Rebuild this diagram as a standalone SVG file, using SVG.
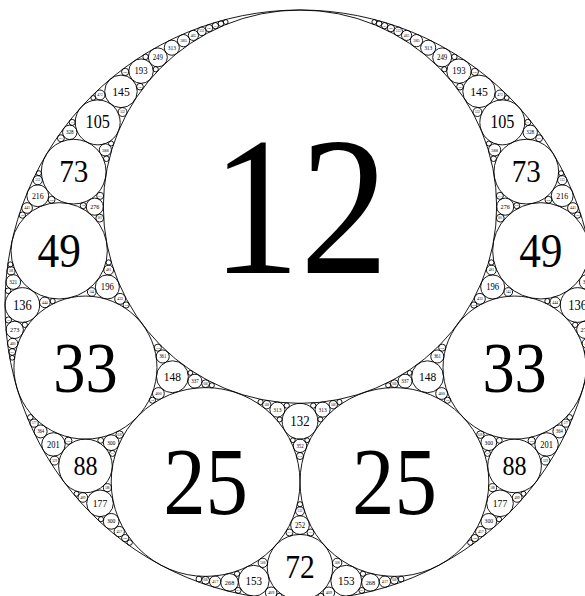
<svg xmlns="http://www.w3.org/2000/svg" width="585" height="596" viewBox="0 0 585 596">
<style>
circle{fill:none;stroke:#000;stroke-width:0.9}
text{font-family:"Liberation Serif","Times New Roman",serif;text-anchor:middle;fill:#000}
</style>
<rect width="585" height="596" fill="#fff"/>
<g id="gasket">
<circle cx="300" cy="305" r="295"/>
<circle cx="300" cy="206.667" r="196.667"/>
<circle cx="300" cy="567.222" r="32.778"/>
<circle cx="300" cy="421.212" r="17.879"/>
<circle cx="300" cy="525.079" r="9.365"/>
<circle cx="300" cy="445.795" r="6.705"/>
<circle cx="300" cy="511.278" r="4.436"/>
<circle cx="300" cy="456.012" r="3.512"/>
<circle cx="300" cy="504.254" r="2.588"/>
<g id="right">
<circle cx="394.4" cy="482" r="94.4"/>
<circle cx="514.55" cy="367.58" r="71.52"/>
<circle cx="540.82" cy="250.82" r="48.16"/>
<circle cx="526.3" cy="171.64" r="32.33"/>
<circle cx="514.55" cy="465.91" r="26.82"/>
<circle cx="502.29" cy="122.38" r="22.48"/>
<circle cx="577.65" cy="305" r="17.35"/>
<circle cx="479.03" cy="91.38" r="16.28"/>
<circle cx="427.57" cy="376.76" r="15.95"/>
<circle cx="346.27" cy="580.72" r="15.43"/>
<circle cx="500" cy="503.33" r="13.33"/>
<circle cx="458.96" cy="71.14" r="12.23"/>
<circle cx="492.65" cy="286.94" r="12.04"/>
<circle cx="546.57" cy="444.43" r="11.74"/>
<circle cx="562.22" cy="195.74" r="10.93"/>
<circle cx="442.17" cy="57.39" r="9.48"/>
<circle cx="370.45" cy="582.39" r="8.81"/>
<circle cx="585.27" cy="329.85" r="8.65"/>
<circle cx="505.22" cy="206.67" r="8.55"/>
<circle cx="488.8" cy="521.33" r="7.87"/>
<circle cx="488.8" cy="442.67" r="7.87"/>
<circle cx="428.18" cy="47.7" r="7.54"/>
<circle cx="322.62" cy="409.62" r="7.54"/>
<circle cx="586.73" cy="282.02" r="7.35"/>
<circle cx="530.24" cy="132.32" r="7.2"/>
<circle cx="405.04" cy="381.16" r="7"/>
<circle cx="437.29" cy="356.48" r="6.54"/>
<circle cx="559.34" cy="431.43" r="6.48"/>
<circle cx="416.47" cy="40.65" r="6.13"/>
<circle cx="494.64" cy="149.9" r="6.08"/>
<circle cx="441.6" cy="393.5" r="5.9"/>
<circle cx="328.85" cy="592.79" r="5.77"/>
<circle cx="384.89" cy="581.61" r="5.66"/>
<circle cx="479.86" cy="298.87" r="5.45"/>
<circle cx="572.93" cy="208.01" r="5.35"/>
<circle cx="555.14" cy="302.34" r="5.32"/>
<circle cx="480.74" cy="531.58" r="5.16"/>
<circle cx="587.3" cy="343.48" r="5.13"/>
<circle cx="406.58" cy="35.38" r="5.08"/>
<circle cx="500" cy="95" r="5"/>
<circle cx="491.35" cy="270.04" r="4.91"/>
<circle cx="517.18" cy="497.44" r="4.83"/>
<circle cx="337.17" cy="562.83" r="4.65"/>
<circle cx="562.22" cy="180.21" r="4.6"/>
<circle cx="545.37" cy="460.59" r="4.46"/>
<circle cx="477.44" cy="112.03" r="4.44"/>
<circle cx="508.24" cy="291.99" r="4.34"/>
<circle cx="398.16" cy="31.34" r="4.27"/>
<circle cx="333.24" cy="404.72" r="4.16"/>
<circle cx="565.86" cy="423.1" r="4.09"/>
<circle cx="588.98" cy="270.88" r="4.01"/>
<circle cx="492.65" cy="487.62" r="4.01"/>
<circle cx="394.4" cy="383.67" r="3.93"/>
<circle cx="394.4" cy="580.33" r="3.93"/>
<circle cx="500.27" cy="218.12" r="3.93"/>
<circle cx="480.38" cy="434.65" r="3.76"/>
<circle cx="474.81" cy="71.91" r="3.64"/>
<circle cx="474.81" cy="538.09" r="3.64"/>
<circle cx="390.91" cy="28.18" r="3.64"/>
<circle cx="531.66" cy="440.74" r="3.62"/>
<circle cx="442.17" cy="347.65" r="3.55"/>
<circle cx="499.88" cy="195.85" r="3.51"/>
<circle cx="310.52" cy="532.5" r="3.51"/>
<circle cx="539.12" cy="138.22" r="3.47"/>
<circle cx="548.42" cy="199.77" r="3.45"/>
<circle cx="587.8" cy="351.98" r="3.39"/>
<circle cx="460" cy="86.67" r="3.33"/>
<circle cx="577.65" cy="215.08" r="3.16"/>
<circle cx="384.62" cy="25.67" r="3.13"/>
<circle cx="473.89" cy="305" r="3.11"/>
<circle cx="447.5" cy="400.26" r="3.07"/>
<circle cx="591.55" cy="319.96" r="3.07"/>
<circle cx="527.8" cy="122.38" r="3.04"/>
<circle cx="516.73" cy="205.66" r="3.01"/>
<circle cx="487.49" cy="453.43" r="2.98"/>
<circle cx="320.83" cy="596.28" r="2.98"/>
<circle cx="361.87" cy="590.42" r="2.95"/>
<circle cx="401.1" cy="579.06" r="2.89"/>
<circle cx="499.31" cy="440.4" r="2.89"/>
<circle cx="569.71" cy="417.38" r="2.81"/>
<circle cx="493.63" cy="158.73" r="2.81"/>
<circle cx="591.87" cy="290.75" r="2.78"/>
<circle cx="454.39" cy="56.87" r="2.76"/>
<circle cx="379.12" cy="23.64" r="2.73"/>
<circle cx="470.31" cy="542.55" r="2.7"/>
<circle cx="491.35" cy="262.48" r="2.66"/>
<circle cx="313.27" cy="405.55" r="2.65"/>
<circle cx="575.16" cy="324.84" r="2.65"/>
<circle cx="339.46" cy="402.02" r="2.63"/>
<circle cx="362.93" cy="573.78" r="2.62"/>
<circle cx="499.04" cy="519.22" r="2.59"/>
<circle cx="547.34" cy="301.14" r="2.58"/>
<circle cx="444.28" cy="69.26" r="2.58"/>
<circle cx="320.34" cy="419.44" r="2.54"/>
<circle cx="589.65" cy="264.39" r="2.52"/>
<circle cx="388.15" cy="385.28" r="2.52"/>
<circle cx="488.9" cy="143.49" r="2.52"/>
<circle cx="561.11" cy="173.19" r="2.51"/>
<circle cx="523.48" cy="493.79" r="2.46"/>
<circle cx="409.6" cy="372.89" r="2.44"/>
<circle cx="587.8" cy="357.76" r="2.4"/>
<circle cx="374.27" cy="21.98" r="2.4"/>
<circle cx="506.77" cy="97.94" r="2.38"/>
<circle cx="307.13" cy="440.17" r="2.38"/>
</g>
<use href="#right" transform="matrix(-1 0 0 1 600 0)"/>
</g>
<g id="labels">
<text transform="matrix(.9 0 0 1 300 0)" y="272.55" font-size="196.67">12</text>
<text transform="matrix(.9 0 0 1 300 0)" y="578.2" font-size="32.78">72</text>
<text transform="matrix(.9 0 0 1 300 0)" y="426" font-size="14.3">132</text>
<text transform="matrix(.9 0 0 1 300 0)" y="527.59" font-size="7.49">252</text>
<text transform="matrix(.9 0 0 1 300 0)" y="447.6" font-size="5.36">352</text>
<text transform="matrix(.9 0 0 1 300 0)" y="512.47" font-size="3.55">532</text>
<text transform="matrix(.9 0 0 1 300 0)" y="456.95" font-size="2.81">672</text>
<text transform="matrix(.9 0 0 1 394.4 0)" y="513.62" font-size="94.4">25</text><text transform="matrix(.9 0 0 1 205.6 0)" y="513.62" font-size="94.4">25</text>
<text transform="matrix(.9 0 0 1 514.55 0)" y="391.54" font-size="71.52">33</text><text transform="matrix(.9 0 0 1 85.45 0)" y="391.54" font-size="71.52">33</text>
<text transform="matrix(.9 0 0 1 540.82 0)" y="266.95" font-size="48.16">49</text><text transform="matrix(.9 0 0 1 59.18 0)" y="266.95" font-size="48.16">49</text>
<text transform="matrix(.9 0 0 1 526.3 0)" y="182.47" font-size="32.33">73</text><text transform="matrix(.9 0 0 1 73.7 0)" y="182.47" font-size="32.33">73</text>
<text transform="matrix(.9 0 0 1 514.55 0)" y="474.89" font-size="26.82">88</text><text transform="matrix(.9 0 0 1 85.45 0)" y="474.89" font-size="26.82">88</text>
<text transform="matrix(.9 0 0 1 502.29 0)" y="128.4" font-size="17.98">105</text><text transform="matrix(.9 0 0 1 97.71 0)" y="128.4" font-size="17.98">105</text>
<text transform="matrix(.9 0 0 1 577.65 0)" y="309.65" font-size="13.88">136</text><text transform="matrix(.9 0 0 1 22.35 0)" y="309.65" font-size="13.88">136</text>
<text transform="matrix(.9 0 0 1 479.03 0)" y="95.74" font-size="13.02">145</text><text transform="matrix(.9 0 0 1 120.97 0)" y="95.74" font-size="13.02">145</text>
<text transform="matrix(.9 0 0 1 427.57 0)" y="381.03" font-size="12.76">148</text><text transform="matrix(.9 0 0 1 172.43 0)" y="381.03" font-size="12.76">148</text>
<text transform="matrix(.9 0 0 1 346.27 0)" y="584.85" font-size="12.34">153</text><text transform="matrix(.9 0 0 1 253.73 0)" y="584.85" font-size="12.34">153</text>
<text transform="matrix(.9 0 0 1 500 0)" y="506.9" font-size="10.67">177</text><text transform="matrix(.9 0 0 1 100 0)" y="506.9" font-size="10.67">177</text>
<text transform="matrix(.9 0 0 1 458.96 0)" y="74.42" font-size="9.78">193</text><text transform="matrix(.9 0 0 1 141.04 0)" y="74.42" font-size="9.78">193</text>
<text transform="matrix(.9 0 0 1 492.65 0)" y="290.17" font-size="9.63">196</text><text transform="matrix(.9 0 0 1 107.35 0)" y="290.17" font-size="9.63">196</text>
<text transform="matrix(.9 0 0 1 546.57 0)" y="447.58" font-size="9.39">201</text><text transform="matrix(.9 0 0 1 53.43 0)" y="447.58" font-size="9.39">201</text>
<text transform="matrix(.9 0 0 1 562.22 0)" y="198.67" font-size="8.74">216</text><text transform="matrix(.9 0 0 1 37.78 0)" y="198.67" font-size="8.74">216</text>
<text transform="matrix(.9 0 0 1 442.17 0)" y="59.93" font-size="7.58">249</text><text transform="matrix(.9 0 0 1 157.83 0)" y="59.93" font-size="7.58">249</text>
<text transform="matrix(.9 0 0 1 370.45 0)" y="584.75" font-size="7.04">268</text><text transform="matrix(.9 0 0 1 229.55 0)" y="584.75" font-size="7.04">268</text>
<text transform="matrix(.9 0 0 1 585.27 0)" y="332.17" font-size="6.92">273</text><text transform="matrix(.9 0 0 1 14.73 0)" y="332.17" font-size="6.92">273</text>
<text transform="matrix(.9 0 0 1 505.22 0)" y="208.96" font-size="6.84">276</text><text transform="matrix(.9 0 0 1 94.78 0)" y="208.96" font-size="6.84">276</text>
<text transform="matrix(.9 0 0 1 488.8 0)" y="523.44" font-size="6.29">300</text><text transform="matrix(.9 0 0 1 111.2 0)" y="523.44" font-size="6.29">300</text>
<text transform="matrix(.9 0 0 1 488.8 0)" y="444.78" font-size="6.29">300</text><text transform="matrix(.9 0 0 1 111.2 0)" y="444.78" font-size="6.29">300</text>
<text transform="matrix(.9 0 0 1 428.18 0)" y="49.72" font-size="6.03">313</text><text transform="matrix(.9 0 0 1 171.82 0)" y="49.72" font-size="6.03">313</text>
<text transform="matrix(.9 0 0 1 322.62 0)" y="411.64" font-size="6.03">313</text><text transform="matrix(.9 0 0 1 277.38 0)" y="411.64" font-size="6.03">313</text>
<text transform="matrix(.9 0 0 1 586.73 0)" y="283.99" font-size="5.88">321</text><text transform="matrix(.9 0 0 1 13.27 0)" y="283.99" font-size="5.88">321</text>
<text transform="matrix(.9 0 0 1 530.24 0)" y="134.25" font-size="5.76">328</text><text transform="matrix(.9 0 0 1 69.76 0)" y="134.25" font-size="5.76">328</text>
<text transform="matrix(.9 0 0 1 405.04 0)" y="383.04" font-size="5.6">337</text><text transform="matrix(.9 0 0 1 194.96 0)" y="383.04" font-size="5.6">337</text>
<text transform="matrix(.9 0 0 1 437.29 0)" y="358.23" font-size="5.23">361</text><text transform="matrix(.9 0 0 1 162.71 0)" y="358.23" font-size="5.23">361</text>
<text transform="matrix(.9 0 0 1 559.34 0)" y="433.17" font-size="5.19">364</text><text transform="matrix(.9 0 0 1 40.66 0)" y="433.17" font-size="5.19">364</text>
<text transform="matrix(.9 0 0 1 416.47 0)" y="42.29" font-size="4.9">385</text><text transform="matrix(.9 0 0 1 183.53 0)" y="42.29" font-size="4.9">385</text>
<text transform="matrix(.9 0 0 1 494.64 0)" y="151.53" font-size="4.87">388</text><text transform="matrix(.9 0 0 1 105.36 0)" y="151.53" font-size="4.87">388</text>
<text transform="matrix(.9 0 0 1 441.6 0)" y="395.08" font-size="4.72">400</text><text transform="matrix(.9 0 0 1 158.4 0)" y="395.08" font-size="4.72">400</text>
<text transform="matrix(.9 0 0 1 328.85 0)" y="594.34" font-size="4.62">409</text><text transform="matrix(.9 0 0 1 271.15 0)" y="594.34" font-size="4.62">409</text>
<text transform="matrix(.9 0 0 1 384.89 0)" y="583.13" font-size="4.53">417</text><text transform="matrix(.9 0 0 1 215.11 0)" y="583.13" font-size="4.53">417</text>
<text transform="matrix(.9 0 0 1 479.86 0)" y="300.33" font-size="4.36">433</text><text transform="matrix(.9 0 0 1 120.14 0)" y="300.33" font-size="4.36">433</text>
<text transform="matrix(.9 0 0 1 572.93 0)" y="209.44" font-size="4.28">441</text><text transform="matrix(.9 0 0 1 27.07 0)" y="209.44" font-size="4.28">441</text>
<text transform="matrix(.9 0 0 1 555.14 0)" y="303.76" font-size="4.25">444</text><text transform="matrix(.9 0 0 1 44.86 0)" y="303.76" font-size="4.25">444</text>
<text transform="matrix(.9 0 0 1 480.74 0)" y="532.96" font-size="4.13">457</text><text transform="matrix(.9 0 0 1 119.26 0)" y="532.96" font-size="4.13">457</text>
<text transform="matrix(.9 0 0 1 587.3 0)" y="344.85" font-size="4.1">460</text><text transform="matrix(.9 0 0 1 12.7 0)" y="344.85" font-size="4.1">460</text>
<text transform="matrix(.9 0 0 1 406.58 0)" y="36.74" font-size="4.06">465</text><text transform="matrix(.9 0 0 1 193.42 0)" y="36.74" font-size="4.06">465</text>
<text transform="matrix(.9 0 0 1 500 0)" y="96.34" font-size="4">472</text><text transform="matrix(.9 0 0 1 100 0)" y="96.34" font-size="4">472</text>
<text transform="matrix(.9 0 0 1 491.35 0)" y="271.35" font-size="3.92">481</text><text transform="matrix(.9 0 0 1 108.65 0)" y="271.35" font-size="3.92">481</text>
<text transform="matrix(.9 0 0 1 517.18 0)" y="498.73" font-size="3.86">489</text><text transform="matrix(.9 0 0 1 82.82 0)" y="498.73" font-size="3.86">489</text>
<text transform="matrix(.9 0 0 1 337.17 0)" y="564.08" font-size="3.72">508</text><text transform="matrix(.9 0 0 1 262.83 0)" y="564.08" font-size="3.72">508</text>
<text transform="matrix(.9 0 0 1 562.22 0)" y="181.44" font-size="3.68">513</text><text transform="matrix(.9 0 0 1 37.78 0)" y="181.44" font-size="3.68">513</text>
<text transform="matrix(.9 0 0 1 545.37 0)" y="461.79" font-size="3.57">529</text><text transform="matrix(.9 0 0 1 54.63 0)" y="461.79" font-size="3.57">529</text>
<text transform="matrix(.9 0 0 1 477.44 0)" y="113.22" font-size="3.55">532</text><text transform="matrix(.9 0 0 1 122.56 0)" y="113.22" font-size="3.55">532</text>
<text transform="matrix(.9 0 0 1 508.24 0)" y="293.15" font-size="3.47">544</text><text transform="matrix(.9 0 0 1 91.76 0)" y="293.15" font-size="3.47">544</text>
<text transform="matrix(.9 0 0 1 398.16 0)" y="32.48" font-size="3.41">553</text><text transform="matrix(.9 0 0 1 201.84 0)" y="32.48" font-size="3.41">553</text>
<text transform="matrix(.9 0 0 1 333.24 0)" y="405.83" font-size="3.32">568</text><text transform="matrix(.9 0 0 1 266.76 0)" y="405.83" font-size="3.32">568</text>
<text transform="matrix(.9 0 0 1 565.86 0)" y="424.2" font-size="3.27">577</text><text transform="matrix(.9 0 0 1 34.14 0)" y="424.2" font-size="3.27">577</text>
<text transform="matrix(.9 0 0 1 588.98 0)" y="271.96" font-size="3.21">588</text><text transform="matrix(.9 0 0 1 11.02 0)" y="271.96" font-size="3.21">588</text>
<text transform="matrix(.9 0 0 1 492.65 0)" y="488.7" font-size="3.21">588</text><text transform="matrix(.9 0 0 1 107.35 0)" y="488.7" font-size="3.21">588</text>
<text transform="matrix(.9 0 0 1 394.4 0)" y="384.72" font-size="3.15">600</text><text transform="matrix(.9 0 0 1 205.6 0)" y="384.72" font-size="3.15">600</text>
<text transform="matrix(.9 0 0 1 394.4 0)" y="581.38" font-size="3.15">600</text><text transform="matrix(.9 0 0 1 205.6 0)" y="581.38" font-size="3.15">600</text>
<text transform="matrix(.9 0 0 1 500.27 0)" y="219.17" font-size="3.14">601</text><text transform="matrix(.9 0 0 1 99.73 0)" y="219.17" font-size="3.14">601</text>
<text transform="matrix(.9 0 0 1 480.38 0)" y="435.66" font-size="3.01">628</text><text transform="matrix(.9 0 0 1 119.62 0)" y="435.66" font-size="3.01">628</text>
<text transform="matrix(.9 0 0 1 474.81 0)" y="72.89" font-size="2.91">648</text><text transform="matrix(.9 0 0 1 125.19 0)" y="72.89" font-size="2.91">648</text>
<text transform="matrix(.9 0 0 1 474.81 0)" y="539.07" font-size="2.91">648</text><text transform="matrix(.9 0 0 1 125.19 0)" y="539.07" font-size="2.91">648</text>
<text transform="matrix(.9 0 0 1 390.91 0)" y="29.15" font-size="2.91">649</text><text transform="matrix(.9 0 0 1 209.09 0)" y="29.15" font-size="2.91">649</text>
<text transform="matrix(.9 0 0 1 531.66 0)" y="441.71" font-size="2.9">652</text><text transform="matrix(.9 0 0 1 68.34 0)" y="441.71" font-size="2.9">652</text>
<text transform="matrix(.9 0 0 1 442.17 0)" y="348.6" font-size="2.84">664</text><text transform="matrix(.9 0 0 1 157.83 0)" y="348.6" font-size="2.84">664</text>
<text transform="matrix(.9 0 0 1 499.88 0)" y="196.79" font-size="2.81">673</text><text transform="matrix(.9 0 0 1 100.12 0)" y="196.79" font-size="2.81">673</text>
<text transform="matrix(.9 0 0 1 310.52 0)" y="533.44" font-size="2.81">673</text><text transform="matrix(.9 0 0 1 289.48 0)" y="533.44" font-size="2.81">673</text>
<text transform="matrix(.9 0 0 1 539.12 0)" y="139.15" font-size="2.77">681</text><text transform="matrix(.9 0 0 1 60.88 0)" y="139.15" font-size="2.77">681</text>
<text transform="matrix(.9 0 0 1 548.42 0)" y="200.69" font-size="2.76">684</text><text transform="matrix(.9 0 0 1 51.58 0)" y="200.69" font-size="2.76">684</text>
<text transform="matrix(.9 0 0 1 587.8 0)" y="352.89" font-size="2.71">697</text><text transform="matrix(.9 0 0 1 12.2 0)" y="352.89" font-size="2.71">697</text>
<text transform="matrix(.9 0 0 1 460 0)" y="87.56" font-size="2.67">708</text><text transform="matrix(.9 0 0 1 140 0)" y="87.56" font-size="2.67">708</text>
<text transform="matrix(.9 0 0 1 577.65 0)" y="215.93" font-size="2.52">748</text><text transform="matrix(.9 0 0 1 22.35 0)" y="215.93" font-size="2.52">748</text>
<text transform="matrix(.9 0 0 1 384.62 0)" y="26.51" font-size="2.51">753</text><text transform="matrix(.9 0 0 1 215.38 0)" y="26.51" font-size="2.51">753</text>
<text transform="matrix(.9 0 0 1 473.89 0)" y="305.83" font-size="2.48">760</text><text transform="matrix(.9 0 0 1 126.11 0)" y="305.83" font-size="2.48">760</text>
<text transform="matrix(.9 0 0 1 447.5 0)" y="401.08" font-size="2.46">768</text><text transform="matrix(.9 0 0 1 152.5 0)" y="401.08" font-size="2.46">768</text>
<text transform="matrix(.9 0 0 1 591.55 0)" y="320.78" font-size="2.46">769</text><text transform="matrix(.9 0 0 1 8.45 0)" y="320.78" font-size="2.46">769</text>
<text transform="matrix(.9 0 0 1 527.8 0)" y="123.19" font-size="2.43">777</text><text transform="matrix(.9 0 0 1 72.2 0)" y="123.19" font-size="2.43">777</text>
<text transform="matrix(.9 0 0 1 516.73 0)" y="206.47" font-size="2.41">784</text><text transform="matrix(.9 0 0 1 83.27 0)" y="206.47" font-size="2.41">784</text>
<text transform="matrix(.9 0 0 1 487.49 0)" y="454.23" font-size="2.38">793</text><text transform="matrix(.9 0 0 1 112.51 0)" y="454.23" font-size="2.38">793</text>
<text transform="matrix(.9 0 0 1 361.87 0)" y="591.21" font-size="2.36">801</text><text transform="matrix(.9 0 0 1 238.13 0)" y="591.21" font-size="2.36">801</text>
</g>
</svg>
